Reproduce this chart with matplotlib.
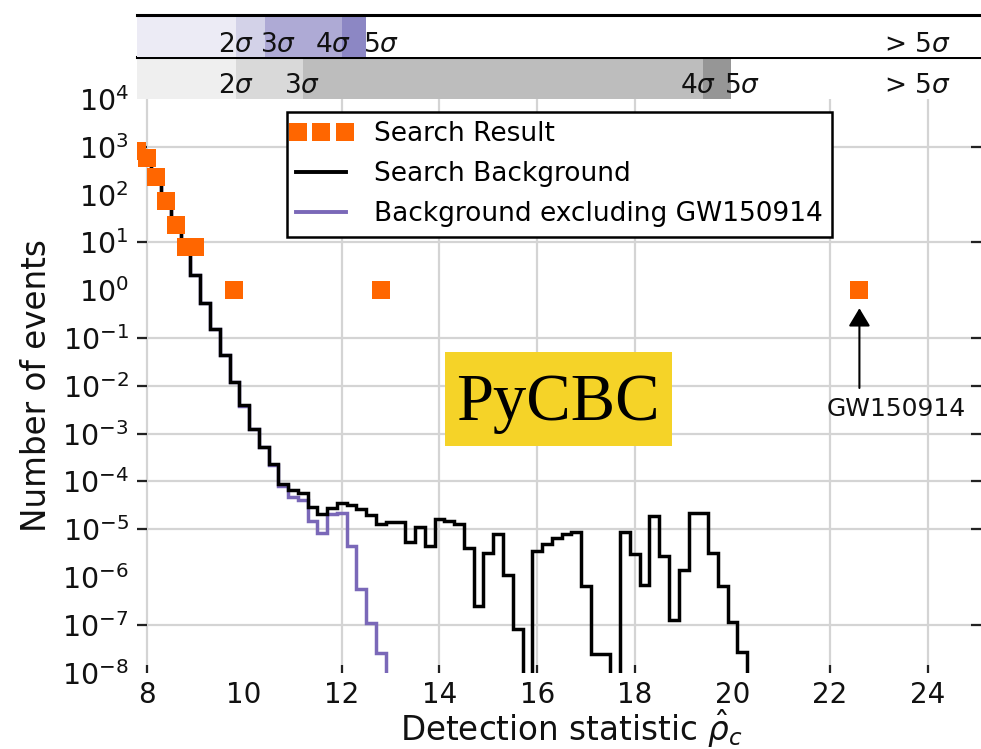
import numpy as np
import matplotlib
matplotlib.use("Agg")
import matplotlib.pyplot as plt
from matplotlib.ticker import FixedLocator, FuncFormatter
from matplotlib.patches import Rectangle
from matplotlib.lines import Line2D
from matplotlib.legend_handler import HandlerLine2D

plt.rcParams["font.family"] = ["DejaVu Sans"]
plt.rcParams["mathtext.fontset"] = "dejavusans"

# ---------------------------------------------------------------- data
BIN_WIDTH = 0.2
bin_centres = [
    7.8, 8.0, 8.2, 8.4, 8.6, 8.8, 9.0, 9.2, 9.4, 9.6, 9.8,
    10.0, 10.2, 10.4, 10.6, 10.8, 11.0, 11.2, 11.4, 11.6, 11.8,
    12.0, 12.2, 12.4, 12.6, 12.8, 13.0, 13.2, 13.4, 13.6, 13.8,
    14.0, 14.2, 14.4, 14.6, 14.8, 15.0, 15.2, 15.4, 15.6, 15.8,
    16.0, 16.2, 16.4, 16.6, 16.8, 17.0, 17.2, 17.4, 17.6, 17.8,
    18.0, 18.2, 18.4, 18.6, 18.8, 19.0, 19.2, 19.4, 19.6, 19.8,
    20.0, 20.2, 20.4,
]

# search background, events per bin
background = [
    1.0e3, 7.0e2, 2.35e2, 7.5e1, 2.4e1, 8.0, 2.1, 5.5e-1, 1.58e-1, 4.4e-2, 1.23e-2,
    4.0e-3, 1.26e-3, 5.2e-4, 2.3e-4, 8.7e-5, 6.6e-5, 5.8e-5, 2.9e-5, 2.1e-5, 2.75e-5,
    3.5e-5, 3.2e-5, 2.6e-5, 2.0e-5, 1.3e-5, 1.4e-5, 1.4e-5, 5.5e-6, 1.1e-5, 4.4e-6,
    1.6e-5, 1.5e-5, 1.3e-5, 4.1e-6, 2.5e-7, 3.2e-6, 7.8e-6, 1.1e-6, 8.3e-8, 0.0,
    3.5e-6, 5.0e-6, 6.6e-6, 7.8e-6, 8.9e-6, 6.6e-7, 2.4e-8, 2.4e-8, 0.0, 8.9e-6,
    3.0e-6, 6.9e-7, 1.9e-5, 2.7e-6, 1.26e-7, 1.4e-6, 2.2e-5, 2.2e-5, 3.2e-6, 6.5e-7,
    1.15e-7, 2.75e-8, 0.0,
]

# background with GW150914 removed (bins 7.8 ... 13.0)
background_excl = [
    1.0e3, 7.0e2, 2.35e2, 7.5e1, 2.4e1, 8.0, 2.1, 5.5e-1, 1.58e-1, 4.4e-2, 1.23e-2,
    3.8e-3, 1.26e-3, 5.2e-4, 2.2e-4, 8.1e-5, 4.7e-5, 4.1e-5, 1.45e-5, 8.5e-6, 2.1e-5,
    2.15e-5, 4.4e-6, 5.6e-7, 1.1e-7, 2.6e-8, 0.0,
]

# search result (candidate events per bin)
result_stat = [7.8, 8.0, 8.2, 8.4, 8.6, 8.8, 9.0, 9.8, 12.8, 22.6]
result_count = [800, 590, 230, 73, 23, 8, 8, 1, 1, 1]

# significance bands
purple_bounds = [9.83, 10.43, 12.01, 12.49]
grey_bounds = [9.83, 11.2, 19.4, 19.97]
purple_labels = [(9.83, "2$\\sigma$"), (10.69, "3$\\sigma$"), (11.82, "4$\\sigma$"),
                 (12.80, "5$\\sigma$"), (23.78, "> 5$\\sigma$")]
grey_labels = [(9.83, "2$\\sigma$"), (11.18, "3$\\sigma$"), (19.29, "4$\\sigma$"),
               (20.19, "5$\\sigma$"), (23.78, "> 5$\\sigma$")]

# ticks drawn with a mark and a grid line
x_grid = [8, 12, 14, 16, 18, 22, 24]
y_grid = [1e-7, 1e-5, 1e-4, 1e-3, 1e-2, 1e-1, 1e1, 1e3]
# ticks that only carry a label
x_label_only = [10, 20]
y_label_only = [1e-8, 1e-6, 1e0, 1e2, 1e4]

# ---------------------------------------------------------------- style
ORANGE = "#ff6600"
PURPLE = "#7a68b8"
GRID = "#d4d4d4"
PURPLES = ["#ecebf5", "#d3d2e8", "#aeaad5", "#8c87c4"]
GREYS = ["#efefef", "#d9d9d9", "#bdbdbd", "#969696"]
XMIN, XMAX = 7.805, 25.09

W, H = 981, 749
fig = plt.figure(figsize=(W / 100, H / 100), dpi=100)


def box(x0, y0, x1, y1):
    """Pixel box measured from the top-left corner -> figure fraction rect."""
    return [x0 / W, 1 - y1 / H, (x1 - x0) / W, (y1 - y0) / H]


ax = fig.add_axes(box(137, 99, 981, 672.6))
band_grey = fig.add_axes(box(137, 57, 981, 99))
band_purple = fig.add_axes(box(137, 15, 981, 57))

# ---------------------------------------------------------------- bands
for band, bounds, colors, labels, ytxt in (
        (band_purple, purple_bounds, PURPLES, purple_labels, 0.28),
        (band_grey, grey_bounds, GREYS, grey_labels, 0.32)):
    band.set_xlim(XMIN, XMAX)
    band.set_ylim(0, 1)
    band.set_xticks([])
    band.set_yticks([])
    for side in ("left", "right", "bottom"):
        band.spines[side].set_visible(False)
    band.spines["top"].set_linewidth(2.2)
    band.spines["top"].set_color("black")
    start = XMIN
    for stop, col in zip(bounds, colors):
        band.axvspan(start, stop, color=col, lw=0)
        start = stop
    for xpos, txt in labels:
        band.text(xpos, ytxt, txt, ha="center", va="center", fontsize=19,
                  color="#111111")

# ---------------------------------------------------------------- main axes
ax.set_yscale("log")
ax.set_xlim(XMIN, XMAX)
ax.set_ylim(1e-8, 1e4)
for s in ax.spines.values():
    s.set_visible(False)

decade = FuncFormatter(lambda v, pos: "$\\mathdefault{10^{%d}}$" % round(np.log10(v)))
plain = FuncFormatter(lambda v, pos: "%d" % round(v))

ax.xaxis.set_major_locator(FixedLocator(x_grid))
ax.xaxis.set_minor_locator(FixedLocator(x_label_only))
ax.xaxis.set_major_formatter(plain)
ax.xaxis.set_minor_formatter(plain)
ax.yaxis.set_major_locator(FixedLocator(y_grid))
ax.yaxis.set_minor_locator(FixedLocator(y_label_only))
ax.yaxis.set_major_formatter(decade)
ax.yaxis.set_minor_formatter(decade)

ax.tick_params(which="both", labelcolor="#111111")
ax.tick_params(axis="x", which="both", labelsize=20, pad=6)
ax.tick_params(axis="y", which="both", labelsize=20.5, pad=6)
ax.tick_params(which="major", direction="in", color="#222222", width=1.6)
ax.tick_params(axis="y", which="major", length=7.5, left=True, right=True)
ax.tick_params(axis="x", which="major", length=5.5, bottom=True, top=False)
ax.tick_params(which="minor", length=0)
ax.grid(which="minor", visible=False)
ax.grid(which="major", color=GRID, lw=1.6)
ax.set_axisbelow(True)

edges = np.append(np.array(bin_centres) - BIN_WIDTH / 2, bin_centres[-1] + BIN_WIDTH / 2)

ax.stairs(background_excl, edges[:len(background_excl) + 1], baseline=None,
          color=PURPLE, lw=2.5, zorder=2)
ax.stairs(background, edges, baseline=None, color="black", lw=2.5, zorder=2.1)
sr, = ax.plot(result_stat, result_count, ls="none", marker="s", ms=13, mew=0,
              color=ORANGE, zorder=3)

# GW150914 annotation
ax.annotate("", xy=(result_stat[-1], 0.42), xytext=(result_stat[-1], 9.0e-3),
            arrowprops=dict(arrowstyle="-|>,head_length=0.55,head_width=0.33",
                            mutation_scale=20, color="black", lw=1.5,
                            shrinkA=0, shrinkB=0))
ax.text(23.35, 3.27e-3, "GW150914", ha="center", va="center", fontsize=18,
        color="#111111")

# pipeline tag
ax.add_patch(Rectangle((0.365, 0.395), 0.269, 0.164, transform=ax.transAxes,
                       facecolor="#f5d328", edgecolor="none", zorder=3))
ax.text(0.4988, 0.4404, "PyCBC", transform=ax.transAxes, ha="center",
        va="baseline", fontsize=48, family=["Liberation Serif", "DejaVu Serif"],
        color="black", zorder=4)

# legend
handles = [sr,
           Line2D([], [], color="black", lw=2.8),
           Line2D([], [], color=PURPLE, lw=2.8)]
labels = ["Search Result", "Search Background", "Background excluding GW150914"]
leg = ax.legend(handles, labels, loc="upper left", bbox_to_anchor=(0.1777, 0.977),
                borderaxespad=0, fontsize=19, frameon=True, fancybox=False,
                framealpha=1, edgecolor="black", handlelength=1.9,
                handletextpad=1.05, borderpad=0.35, labelspacing=0.53,
                handler_map={sr: HandlerLine2D(numpoints=3, marker_pad=0.05)})
leg.get_frame().set_linewidth(1.8)
leg.set_zorder(6)

ax.set_xlabel("Detection statistic $\\hat{\\rho}_c$", fontsize=23.5, color="#111111")
ax.set_ylabel("Number of events", fontsize=23.5, color="#111111")
ax.xaxis.set_label_coords(0.515, -0.0615)
ax.yaxis.set_label_coords(-0.1, 0.5)

fig.savefig("out.png", dpi=100)
